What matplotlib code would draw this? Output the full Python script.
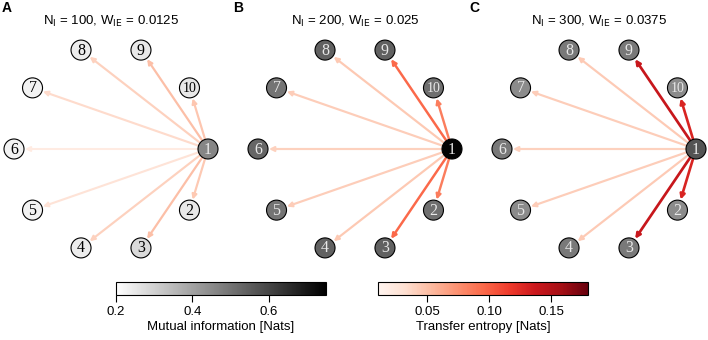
import numpy as np
import matplotlib.pyplot as plt
from matplotlib.patches import Circle
from matplotlib.colors import Normalize
import matplotlib.cm as cm

plt.rcParams["font.family"] = ["Liberation Sans", "DejaVu Sans"]

# panel settings
titles = ["N$_\\mathrm{I}$ = 100, W$_\\mathrm{IE}$ = 0.0125",
          "N$_\\mathrm{I}$ = 200, W$_\\mathrm{IE}$ = 0.025",
          "N$_\\mathrm{I}$ = 300, W$_\\mathrm{IE}$ = 0.0375"]
letters = ["A", "B", "C"]
node_ids = list(range(1, 11))

# mutual information per node (nodes 1..10)
mi_A = [0.46, 0.25, 0.28, 0.24, 0.23, 0.23, 0.23, 0.24, 0.25, 0.25]
mi_B = [0.74, 0.51, 0.54, 0.54, 0.50, 0.53, 0.50, 0.54, 0.54, 0.51]
mi_C = [0.57, 0.45, 0.49, 0.49, 0.45, 0.49, 0.45, 0.49, 0.49, 0.45]

# transfer entropy from node 1 to nodes 2..10
te_A = [0.045, 0.050, 0.040, 0.028, 0.020, 0.034, 0.040, 0.050, 0.046]
te_B = [0.085, 0.095, 0.045, 0.042, 0.040, 0.042, 0.045, 0.095, 0.085]
te_C = [0.130, 0.140, 0.044, 0.042, 0.040, 0.042, 0.044, 0.140, 0.130]

mi_all = [mi_A, mi_B, mi_C]
te_all = [te_A, te_B, te_C]

mi_norm = Normalize(0.2, 0.75)
te_norm = Normalize(0.01, 0.18)
mi_cmap = plt.get_cmap("gray_r")
te_cmap = plt.get_cmap("Reds")

W, H = 708, 340
fig = plt.figure(figsize=(W / 100, H / 100), dpi=100)

rx, ry, rnode = 97, 104, 10
ang = np.deg2rad(-36 * np.arange(10))
xs = rx * np.cos(ang)
ys = ry * np.sin(ang)

centers = [111, 355, 599]
for k in range(3):
    cx = centers[k]
    ax = fig.add_axes([(cx - 122) / W, (H - 269) / H, 244 / W, 240 / H])
    ax.set_xlim(-122, 122)
    ax.set_ylim(-120, 120)
    ax.axis("off")

    # edges from node 1
    for j in range(1, 10):
        te = te_all[k][j - 1]
        dx, dy = xs[j] - xs[0], ys[j] - ys[0]
        d = np.hypot(dx, dy)
        ux, uy = dx / d, dy / d
        start = (xs[0] + ux * rnode, ys[0] + uy * rnode)
        end = (xs[j] - ux * (rnode + 1), ys[j] - uy * (rnode + 1))
        ax.annotate("", xy=end, xytext=start,
                    arrowprops=dict(arrowstyle="-|>", color=te_cmap(te_norm(te)),
                                    lw=1.4 + 4 * te, mutation_scale=7,
                                    shrinkA=0, shrinkB=0), zorder=1)

    # nodes
    for i, n in enumerate(node_ids):
        v = mi_all[k][i]
        ax.add_patch(Circle((xs[i], ys[i]), rnode, facecolor=mi_cmap(mi_norm(v)),
                            edgecolor="black", lw=0.8, zorder=3))
        ax.text(xs[i], ys[i] - 0.5, str(n), ha="center", va="center",
                family="Liberation Serif", fontsize=11.5 if n < 10 else 10,
                color="black" if v < 0.4 else "#e8e8e8", zorder=4)

    fig.text(cx / W, 1 - 21 / H, titles[k], ha="center", va="center", fontsize=9.5)

fig.text(2 / W, 1 - 8 / H, "A", weight="bold", fontsize=10, va="center")
fig.text(233 / W, 1 - 8 / H, "B", weight="bold", fontsize=10, va="center")
fig.text(469 / W, 1 - 8 / H, "C", weight="bold", fontsize=10, va="center")

# colorbars
cax1 = fig.add_axes([116 / W, (H - 295) / H, 210 / W, 13 / H])
cb1 = fig.colorbar(cm.ScalarMappable(norm=mi_norm, cmap=mi_cmap), cax=cax1,
                   orientation="horizontal")
cb1.set_ticks([0.2, 0.4, 0.6])
cb1.set_ticklabels(["0.2", "0.4", "0.6"])
cb1.set_label("Mutual information [Nats]", fontsize=9.5, labelpad=2)

cax2 = fig.add_axes([378 / W, (H - 295) / H, 210 / W, 13 / H])
cb2 = fig.colorbar(cm.ScalarMappable(norm=te_norm, cmap=te_cmap), cax=cax2,
                   orientation="horizontal")
cb2.set_ticks([0.05, 0.10, 0.15])
cb2.set_ticklabels(["0.05", "0.10", "0.15"])
cb2.set_label("Transfer entropy [Nats]", fontsize=9.5, labelpad=2)

for cb in (cb1, cb2):
    cb.outline.set_linewidth(0.8)
    cb.ax.tick_params(labelsize=9.5, length=5, width=0.8, pad=3)

fig.savefig("out.png", dpi=100)
